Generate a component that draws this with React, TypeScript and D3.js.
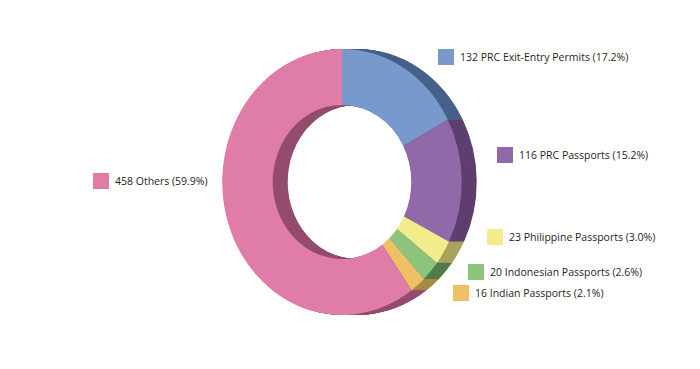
import React from "react";
import * as d3 from "d3";

const labels = [
  "PRC Exit-Entry Permits",
  "PRC Passports",
  "Philippine Passports",
  "Indonesian Passports",
  "Indian Passports",
  "Others",
];
const values = [132, 116, 23, 20, 16, 458];
const percents = ["17.2%", "15.2%", "3.0%", "2.6%", "2.1%", "59.9%"];
const frontColors = ["#7799cb", "#9169a8", "#f3ec8c", "#8dc47d", "#f0c066", "#e07ca8"];
const sideColors = ["#46628a", "#5e3f70", "#a8a35e", "#4f7d4c", "#a98a45", "#944d6e"];

// legend anchor positions (square top-left)
const legendPos: [number, number][] = [
  [438, 49],
  [497, 147],
  [487, 229],
  [468, 264],
  [453, 285],
  [93, 173],
];

export default function App() {
  const W = 700;
  const H = 369;
  const cx = 342;
  const cy = 182;
  const outerR = 133;
  const innerR = 77;
  const sx = 0.9;
  const depth = 15;

  const pie = d3.pie<number>().value((d) => d).sort(null);
  const arcs = pie(values);
  const arcGen = d3.arc<d3.PieArcDatum<number>>().innerRadius(innerR).outerRadius(outerR);

  const layers: number[] = [];
  for (let d = depth; d > 0; d -= 0.5) layers.push(d);

  return (
    <svg width={W} height={H} style={{ position: "absolute", left: 0, top: 0, background: "#fff" }}>
      {layers.map((d) => (
        <g key={d} transform={`translate(${cx + d},${cy}) scale(${sx},1)`}>
          {arcs.map((a, i) => (
            <path key={i} d={arcGen(a) || ""} fill={sideColors[i]} />
          ))}
        </g>
      ))}
      <g transform={`translate(${cx},${cy}) scale(${sx},1)`}>
        {arcs.map((a, i) => (
          <path key={i} d={arcGen(a) || ""} fill={frontColors[i]} />
        ))}
      </g>
      {labels.map((l, i) => (
        <g key={l} transform={`translate(${legendPos[i][0]},${legendPos[i][1]})`}>
          <rect width={16} height={16} fill={frontColors[i]} />
          <text
            x={22}
            y={8}
            dy="0.35em"
            fontFamily="Open Sans"
            fontSize={10.5}
            fill="#231f20"
          >
            {`${values[i]} ${l} (${percents[i]})`}
          </text>
        </g>
      ))}
    </svg>
  );
}
